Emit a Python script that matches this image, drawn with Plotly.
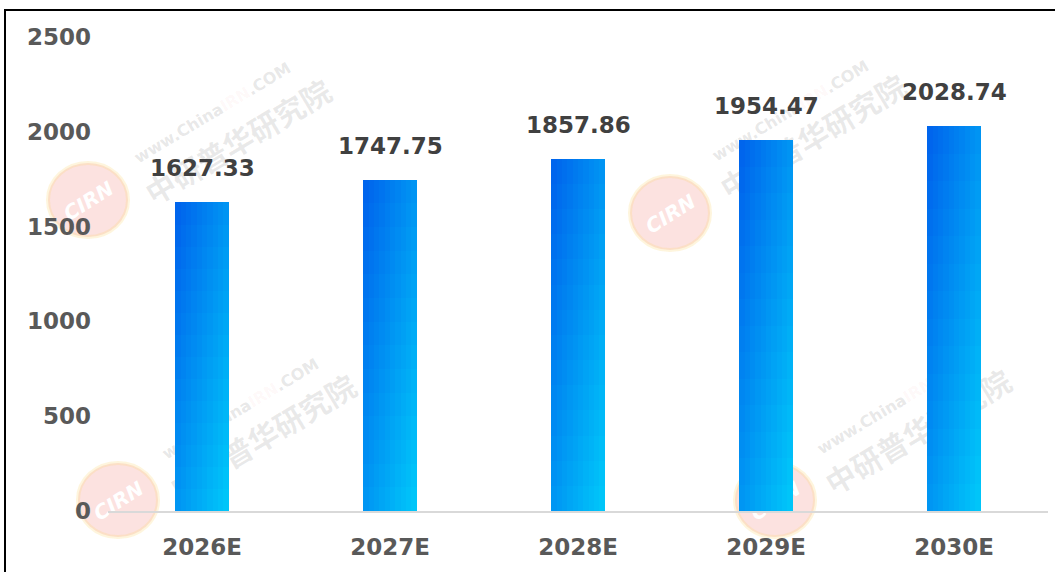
import plotly.graph_objects as go

categories = ["2026E", "2027E", "2028E", "2029E", "2030E"]
values = [1627.33, 1747.75, 1857.86, 1954.47, 2028.74]
y_ticks = [0, 500, 1000, 1500, 2000, 2500]

W, H = 1055, 572
L, R, T, B = 108, 7, 37, 61
PW, PH = W - L - R, H - T - B

def px2paper(px, py):
    return (px - L) / PW, (H - B - py) / PH

c_dark = (0, 96, 236)
c_light = (0, 202, 250)

def mix(t):
    return "rgb(%d,%d,%d)" % tuple(round(a + (b - a) * t) for a, b in zip(c_dark, c_light))

fig = go.Figure()

NC, NR = 10, 14
bw = 0.285
for j in range(NC):
    for k in range(NR):
        xf = (j + 0.5) / NC
        yf = (k + 0.5) / NR
        t = (xf + (1 - yf)) / 2
        fig.add_trace(go.Bar(
            x=categories,
            y=[v / NR for v in values],
            base=[v * k / NR for v in values],
            width=bw / NC,
            offset=-bw / 2 + j * bw / NC,
            marker=dict(color=mix(t), line=dict(width=0)),
            showlegend=False,
            hoverinfo="skip",
        ))

# data labels
for c, v in zip(categories, values):
    fig.add_annotation(x=c, y=v, text="%.2f" % v, showarrow=False,
                       yanchor="middle", yshift=34,
                       font=dict(family="DejaVu Sans", size=23, color="#404040", weight="bold"))

shapes = []
# border (top and left)
x0p, _ = px2paper(5, 0)
_, y0p = px2paper(0, 10)
shapes.append(dict(type="path", xref="paper", yref="paper",
                   path="M %f,%f L %f,%f L %f,%f" % (x0p, -0.3, x0p, y0p, 1.05, y0p),
                   line=dict(color="black", width=2), layer="above"))

def box(cx, cy, hw, hh):
    x0, y0 = px2paper(cx - hw, cy + hh)
    x1, y1 = px2paper(cx + hw, cy - hh)
    return dict(x0=x0, x1=x1, y0=y0, y1=y1)

# watermarks
wm = [
    ((88, 200), (240, 145), (212, 112)),
    ((670, 213), (815, 140), (790, 110)),
    ((118, 500), (265, 440), (240, 408)),
    ((775, 500), (920, 435), (895, 403)),
]
for (cx, cy), (tx, ty), (ux, uy) in wm:
    shapes.append(dict(type="circle", xref="paper", yref="paper", **box(cx, cy, 40, 37),
                       fillcolor="rgba(238,110,100,0.20)",
                       line=dict(color="rgba(250,215,120,0.25)", width=4), layer="below",
                       label=dict(text="<i><b>CIRN</b></i>", textangle=-32,
                                  font=dict(family="DejaVu Sans", size=20, color="white"))))
    shapes.append(dict(type="rect", xref="paper", yref="paper", **box(tx, ty, 20, 20),
                       line=dict(width=0), fillcolor="rgba(0,0,0,0)", layer="below",
                       label=dict(text="<b>中研普华研究院</b>", textangle=-31,
                                  font=dict(family="Noto Sans CJK SC", size=30, color="rgba(120,120,120,0.16)"))))
    shapes.append(dict(type="rect", xref="paper", yref="paper", **box(ux, uy, 20, 20),
                       line=dict(width=0), fillcolor="rgba(0,0,0,0)", layer="below",
                       label=dict(text="<b>www.China<span style='color:rgba(230,80,70,0.25)'>IRN</span>.COM</b>",
                                  textangle=-31,
                                  font=dict(family="DejaVu Sans", size=16, color="rgba(120,120,120,0.18)"))))

fig.update_layout(
    width=W, height=H,
    margin=dict(l=L, r=R, t=T, b=B, pad=0),
    paper_bgcolor="white", plot_bgcolor="white",
    barmode="overlay", bargap=0,
    shapes=shapes,
    showlegend=False,
    xaxis=dict(type="category", showgrid=False, showline=True, linecolor="#D9D9D9", linewidth=2,
               ticks="", ticklabelstandoff=14,
               tickfont=dict(family="DejaVu Sans", size=23, color="#595959", weight="bold")),
    yaxis=dict(range=[0, 2500], tickvals=y_ticks, showgrid=False, zeroline=False, showline=False,
               ticks="", ticklabelstandoff=16,
               tickfont=dict(family="DejaVu Sans", size=23, color="#595959", weight="bold")),
)

fig.write_html("out.html", config={"displayModeBar": False},
               post_script="document.body.style.margin='0';document.body.style.overflow='hidden';")
